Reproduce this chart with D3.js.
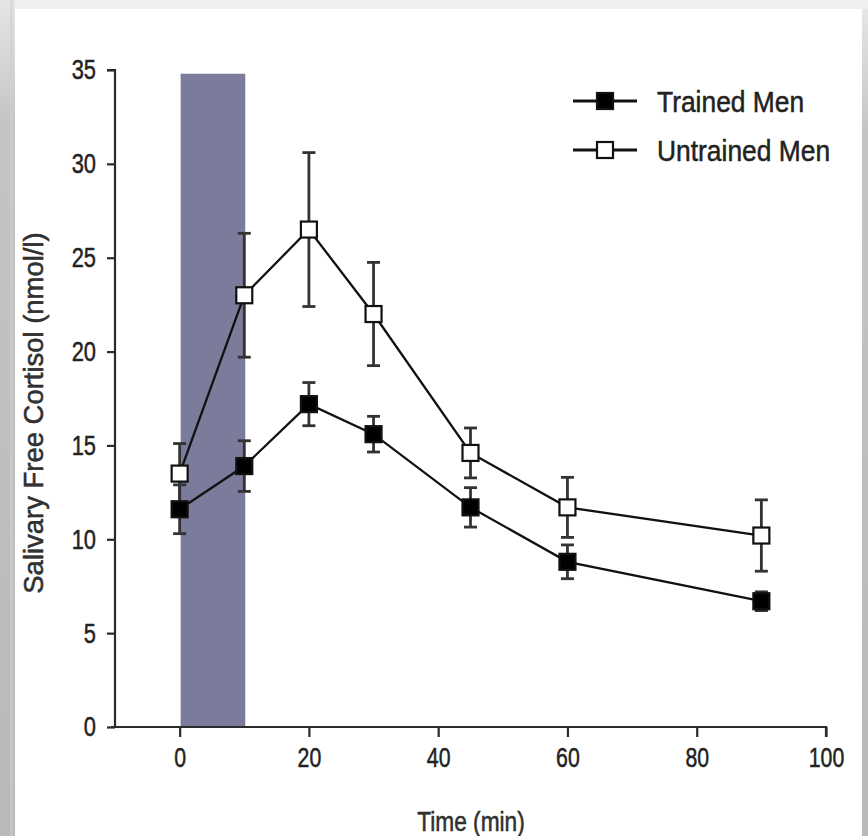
<!DOCTYPE html>
<html>
<head>
<meta charset="utf-8">
<script src="https://cdn.jsdelivr.net/npm/d3@7"></script>
<style>
  html, body { margin: 0; padding: 0; background: #fff; }
  svg { display: block; font-family: "Liberation Sans", Arial, sans-serif; }
  text { stroke: #222; stroke-width: 0.5px; }
</style>
</head>
<body>
<div id="main_output"></div>
<script>
// values
var times = [0, 10, 20, 30, 45, 60, 90];
var trained = [11.6, 13.9, 17.2, 15.6, 11.7, 8.8, 6.7];
var trainedErr = [1.3, 1.35, 1.15, 0.95, 1.05, 0.9, 0.5];
var untrained = [13.5, 23.0, 26.5, 22.0, 14.6, 11.7, 10.2];
var untrainedErr = [1.6, 3.3, 4.1, 2.75, 1.33, 1.6, 1.9];
var band = [0, 10, 34.8];            // exercise period: x from, x to, top
var xTicks = [0, 20, 40, 60, 80, 100];
var yTicks = [0, 5, 10, 15, 20, 25, 30, 35];
var seriesNames = ["Trained Men", "Untrained Men"];

var width = 868, height = 836;

var svg = d3.select("#main_output")
  .append("svg")
  .attr("width", width)
  .attr("height", height);

// squeeze text horizontally, the picture's lettering is narrow
function squeeze(sel, f) {
  sel.each(function() {
    var w = this.getComputedTextLength();
    d3.select(this).attr("textLength", w * f).attr("lengthAdjust", "spacingAndGlyphs");
  });
}

// ---- frame around the picture ----
var grad = svg.append("defs").append("linearGradient")
  .attr("id", "leftEdge").attr("x1", 0).attr("y1", 0).attr("x2", 0).attr("y2", 1);
grad.append("stop").attr("offset", "0%").attr("stop-color", "#e6e6e6");
grad.append("stop").attr("offset", "15%").attr("stop-color", "#c4c4c4");
grad.append("stop").attr("offset", "100%").attr("stop-color", "#b9b9b9");

svg.append("rect").attr("x", 0).attr("y", 0).attr("width", width).attr("height", 9).attr("fill", "#efefef");
svg.append("rect").attr("x", 0).attr("y", 0).attr("width", 15).attr("height", height).attr("fill", "url(#leftEdge)");
svg.append("rect").attr("x", 10).attr("y", 0).attr("width", 3).attr("height", height).attr("fill", "#cfcfcf").attr("opacity", 0.6);
svg.append("rect").attr("x", 862).attr("y", 9).attr("width", 6).attr("height", height).attr("fill", "url(#leftEdge)");

// ---- scales ----
var x = d3.scaleLinear().domain([-10, 100]).range([115, 826]);
var y = d3.scaleLinear().domain([0, 35]).range([727, 70]);

// shaded band
svg.append("rect")
  .attr("x", x(band[0]) + 1)
  .attr("y", y(band[2]))
  .attr("width", x(band[1]) - x(band[0]))
  .attr("height", y(0) - y(band[2]))
  .attr("fill", "#7b7c9b");

// ---- axes ----
var yAxis = d3.axisLeft(y).tickValues(yTicks).tickSize(8).tickPadding(11);
var gy = svg.append("g")
  .attr("transform", "translate(" + x(-10) + ",0)")
  .call(yAxis);
gy.select(".domain").attr("stroke", "#2a2a2a").attr("stroke-width", 2.2).attr("d", "M-8," + y(35) + "H0V" + y(0));
gy.selectAll(".tick line").attr("stroke", "#2a2a2a").attr("stroke-width", 2.2);
gy.selectAll(".tick text")
  .attr("font-size", 28).attr("fill", "#222")
  .attr("font-family", "Liberation Sans, Arial, sans-serif")
  .call(squeeze, 0.78);

var xAxis = d3.axisBottom(x).tickValues(xTicks).tickSize(10).tickPadding(10);
var gx = svg.append("g")
  .attr("transform", "translate(0," + y(0) + ")")
  .call(xAxis);
gx.select(".domain").attr("stroke", "#2a2a2a").attr("stroke-width", 2.2).attr("d", "M" + (x(-10) - 4) + ",0H" + x(100) + "V10");
gx.selectAll(".tick line").attr("stroke", "#2a2a2a").attr("stroke-width", 2.2);
gx.selectAll(".tick text")
  .attr("font-size", 28).attr("fill", "#222")
  .attr("font-family", "Liberation Sans, Arial, sans-serif")
  .call(squeeze, 0.76);

// axis titles
svg.append("text")
  .attr("x", 471).attr("y", 831)
  .attr("text-anchor", "middle")
  .attr("font-size", 27).attr("fill", "#333")
  .text("Time (min)")
  .call(squeeze, 0.84);

svg.append("text")
  .attr("transform", "translate(43,413) rotate(-90)")
  .attr("text-anchor", "middle")
  .attr("font-size", 28).attr("fill", "#333")
  .text("Salivary Free Cortisol (nmol/l)")
  .call(squeeze, 0.98);

// ---- series ----
var series = [
  {name: seriesNames[1], vals: untrained, err: untrainedErr, fill: "#fff"},
  {name: seriesNames[0], vals: trained, err: trainedErr, fill: "#000"}
];

var line = d3.line()
  .x(function(d) { return x(d.t); })
  .y(function(d) { return y(d.v); });

var ms = 16, cap = 6.5;

series.forEach(function(s) {
  var pts = times.map(function(t, i) { return {t: t, v: s.vals[i], e: s.err[i]}; });

  svg.append("path")
    .datum(pts)
    .attr("fill", "none")
    .attr("stroke", "#111")
    .attr("stroke-width", 2.3)
    .attr("d", line);

  var eb = svg.append("g").selectAll("g").data(pts).enter().append("g");
  eb.append("line")
    .attr("x1", function(d) { return x(d.t); })
    .attr("x2", function(d) { return x(d.t); })
    .attr("y1", function(d) { return y(d.v - d.e); })
    .attr("y2", function(d) { return y(d.v + d.e); });
  eb.append("line")
    .attr("x1", function(d) { return x(d.t) - cap; })
    .attr("x2", function(d) { return x(d.t) + cap; })
    .attr("y1", function(d) { return y(d.v + d.e); })
    .attr("y2", function(d) { return y(d.v + d.e); });
  eb.append("line")
    .attr("x1", function(d) { return x(d.t) - cap; })
    .attr("x2", function(d) { return x(d.t) + cap; })
    .attr("y1", function(d) { return y(d.v - d.e); })
    .attr("y2", function(d) { return y(d.v - d.e); });
  eb.selectAll("line").attr("stroke", "#333").attr("stroke-width", 2.8);
});

// markers on top of everything
series.forEach(function(s) {
  svg.append("g").selectAll("rect")
    .data(times)
    .enter().append("rect")
    .attr("x", function(t) { return x(t) - ms / 2; })
    .attr("y", function(t, i) { return y(s.vals[i]) - ms / 2; })
    .attr("width", ms).attr("height", ms)
    .attr("fill", s.fill)
    .attr("stroke", "#111")
    .attr("stroke-width", 2.2);
});

// ---- legend ----
var legend = svg.append("g").attr("transform", "translate(573,101)");
[seriesNames[0], seriesNames[1]].forEach(function(name, i) {
  var g = legend.append("g").attr("transform", "translate(0," + (i * 49) + ")");
  g.append("line").attr("x1", 0).attr("x2", 64).attr("y1", 0).attr("y2", 0)
    .attr("stroke", "#111").attr("stroke-width", 2.8);
  g.append("rect").attr("x", 32 - ms / 2).attr("y", -ms / 2).attr("width", ms).attr("height", ms)
    .attr("fill", i === 0 ? "#000" : "#fff").attr("stroke", "#111").attr("stroke-width", 2.2);
  g.append("text").attr("x", 84).attr("y", 11)
    .attr("font-size", 30).attr("fill", "#222")
    .text(name)
    .call(squeeze, 0.88);
});
</script>
</body>
</html>
